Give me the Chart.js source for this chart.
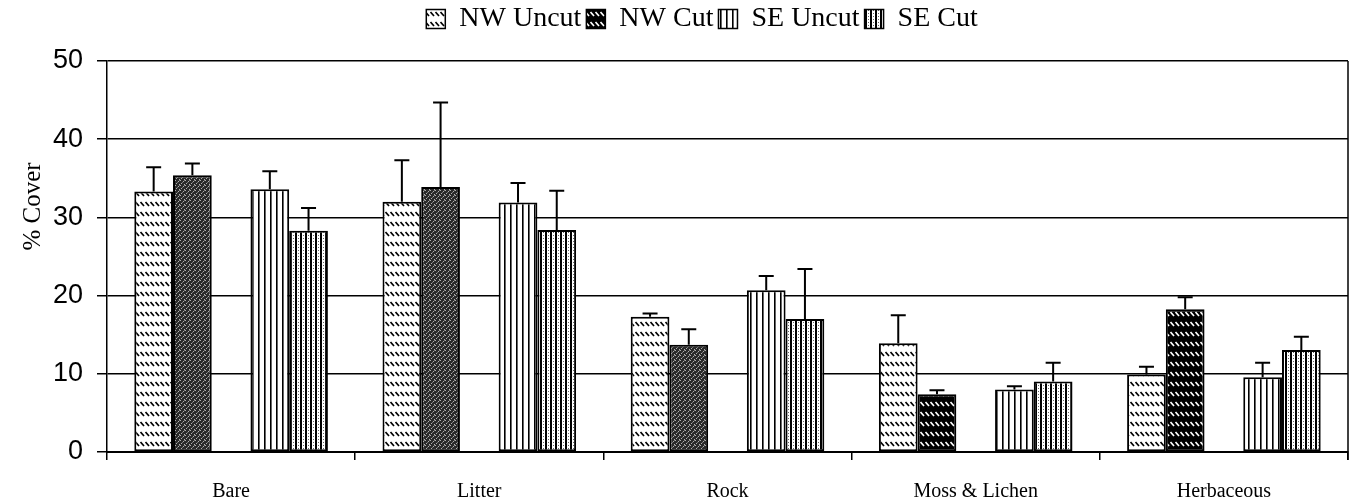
<!DOCTYPE html>
<html>
<head>
<meta charset="utf-8">
<script src="https://cdn.jsdelivr.net/npm/chart.js@4.4.1/dist/chart.umd.min.js"></script>
<style>
    body { margin: 0; background: #fff; }
    #wrap { width: 1356px; height: 501px; position: relative; }
</style>
</head>
<body>
<div id="wrap"><canvas id="coverChart"></canvas></div>
<script>
// categories and series (% cover, mean + upper error)
const categories = ["Bare", "Litter", "Rock", "Moss & Lichen", "Herbaceous"];
const seriesNames = ["NW Uncut", "NW Cut", "SE Uncut", "SE Cut"];

const nwUncut = [33.3, 32.0, 17.3, 13.9, 9.9];
const nwCut = [35.4, 33.9, 13.7, 7.4, 18.25];
const seUncut = [33.6, 31.9, 20.7, 8.0, 9.55];
const seCut = [28.3, 28.4, 17.0, 9.0, 13.05];

const nwUncutErr = [3.1, 5.3, 0.4, 3.6, 1.0];
const nwCutErr = [1.5, 10.8, 2.0, 0.5, 1.55];
const seUncutErr = [2.3, 2.5, 1.8, 0.4, 1.85];
const seCutErr = [2.9, 5.0, 6.4, 2.4, 1.7];

const yTicks = [0, 10, 20, 30, 40, 50];

function makePattern(w, h, draw) {
    let c = document.createElement('canvas');
    c.width = w; c.height = h;
    let g = c.getContext('2d');
    draw(g);
    return g.createPattern(c, 'repeat');
}

// bar fills
const fillDash = makePattern(5, 10, g => {
    g.fillStyle = '#fff'; g.fillRect(0, 0, 5, 10);
    g.strokeStyle = '#000'; g.lineWidth = 1.6;
    g.beginPath(); g.moveTo(0.5, 2); g.lineTo(4, 6); g.stroke();
});
const fillStipple = makePattern(5, 5, g => {
    g.fillStyle = '#2a2a2a'; g.fillRect(0, 0, 5, 5);
    g.fillStyle = '#b0b0b0';
    g.fillRect(0, 0, 1, 1); g.fillRect(3, 1, 1, 1); g.fillRect(1, 3, 1, 1); g.fillRect(4, 4, 1, 1);
    g.fillStyle = '#777';
    g.fillRect(2, 2, 1, 1); g.fillRect(4, 0, 1, 1);
});
const fillDarkDash = makePattern(5, 10, g => {
    g.fillStyle = '#000'; g.fillRect(0, 0, 5, 10);
    g.strokeStyle = '#fff'; g.lineWidth = 1.6;
    g.beginPath(); g.moveTo(0.5, 2); g.lineTo(4, 6); g.stroke();
});
const fillVert = makePattern(6, 4, g => {
    g.fillStyle = '#fff'; g.fillRect(0, 0, 6, 4);
    g.fillStyle = '#000'; g.fillRect(0, 0, 1.6, 4);
});
const fillVertDot = makePattern(5, 3, g => {
    g.fillStyle = '#fff'; g.fillRect(0, 0, 5, 3);
    g.fillStyle = '#000'; g.fillRect(0, 0, 2, 3);
    g.fillStyle = '#666'; g.fillRect(3, 1, 1, 1);
});

const legendFills = [fillDash, fillDarkDash, fillVert, fillVertDot];

// upper error bars
const errorBars = {
    id: 'errorBars',
    afterDatasetsDraw(chart) {
        let ctx = chart.ctx;
        let y = chart.scales.y;
        ctx.save();
        ctx.strokeStyle = '#000';
        ctx.lineWidth = 2;
        chart.data.datasets.forEach((ds, i) => {
            if (!ds.err) return;
            chart.getDatasetMeta(i).data.forEach((bar, j) => {
                let top = y.getPixelForValue(ds.data[j] + ds.err[j]);
                ctx.beginPath();
                ctx.moveTo(bar.x, bar.y);
                ctx.lineTo(bar.x, top);
                ctx.moveTo(bar.x - 7.5, top);
                ctx.lineTo(bar.x + 7.5, top);
                ctx.stroke();
            });
        });
        // right border of the plot
        let a = chart.chartArea;
        ctx.lineWidth = 1.5;
        ctx.beginPath();
        ctx.moveTo(a.right, a.top);
        ctx.lineTo(a.right, a.bottom + 8);
        ctx.stroke();
        ctx.restore();
    }
};

// fix legend height (plot starts where the reference does) and nudge it a bit right
const legendHeight = {
    id: 'legendHeight',
    beforeUpdate(chart) {
        let lg = chart.legend;
        if (lg && !lg._fixed) {
            let fit = lg.fit.bind(lg);
            lg.fit = function () {
                fit();
                this.height = 61;
                if (this.lineWidths) this.lineWidths = this.lineWidths.map(w => w - 56);
            };
            lg._fixed = true;
        }
    }
};

const barBase = { borderColor: '#000', borderWidth: 2, borderSkipped: false };

var ctx = document.getElementById('coverChart').getContext('2d');
var coverChart = new Chart(ctx, {
    type: 'bar',
    data: {
        labels: categories,
        datasets: [
            { ...barBase, label: seriesNames[0], data: nwUncut, err: nwUncutErr, backgroundColor: fillDash },
            { ...barBase, label: seriesNames[1], data: nwCut, err: nwCutErr,
              backgroundColor: c => c.dataIndex < 3 ? fillStipple : fillDarkDash },
            { label: '', data: categories.map(() => null), borderWidth: 0 },
            { ...barBase, label: seriesNames[2], data: seUncut, err: seUncutErr, backgroundColor: fillVert },
            { ...barBase, label: seriesNames[3], data: seCut, err: seCutErr, backgroundColor: fillVertDot }
        ]
    },
    options: {
        responsive: true,
        maintainAspectRatio: false,
        animation: false,
        layout: { padding: { left: 0, right: 8, top: 0, bottom: 0 } },
        datasets: { bar: { categoryPercentage: 0.78, barPercentage: 1.0 } },
        plugins: {
            tooltip: { enabled: false },
            legend: {
                position: 'top',
                labels: {
                    font: { family: 'Liberation Serif', size: 28 },
                    color: '#000',
                    boxWidth: 19,
                    boxHeight: 19,
                    padding: 5,
                    filter: item => item.text !== '',
                    generateLabels: chart => {
                        let items = Chart.defaults.plugins.legend.labels.generateLabels(chart);
                        items.forEach(it => {
                            let k = seriesNames.indexOf(it.text);
                            if (k >= 0) {
                                it.fillStyle = legendFills[k];
                                it.strokeStyle = '#000';
                                it.lineWidth = 1.5;
                            }
                        });
                        return items;
                    }
                }
            }
        },
        scales: {
            x: {
                afterFit: s => { s.height = 49; },
                border: { color: '#000', width: 2 },
                grid: { display: true, drawOnChartArea: false, color: '#000', lineWidth: 1.5, tickLength: 8, offset: true },
                ticks: { font: { family: 'Liberation Serif', size: 20 }, color: '#000', padding: 20 }
            },
            y: {
                min: 0,
                max: 50,
                afterFit: s => { s.width = 107; },
                afterBuildTicks: s => { s.ticks = yTicks.map(v => ({ value: v })); },
                border: { color: '#000', width: 1.5 },
                grid: { color: '#000', lineWidth: 1.5, tickLength: 10 },
                ticks: { font: { family: 'Liberation Sans', size: 27 }, color: '#000', padding: 14 },
                title: {
                    display: true,
                    // leading em spaces push the label up toward the 30-40 band, as in the original
                    text: '\u2003\u2003\u2003\u2003% Cover',
                    font: { family: 'Liberation Serif', size: 25 },
                    color: '#000',
                    padding: { top: 18, bottom: 0 }
                }
            }
        }
    },
    plugins: [errorBars, legendHeight]
});
</script>
</body>
</html>
